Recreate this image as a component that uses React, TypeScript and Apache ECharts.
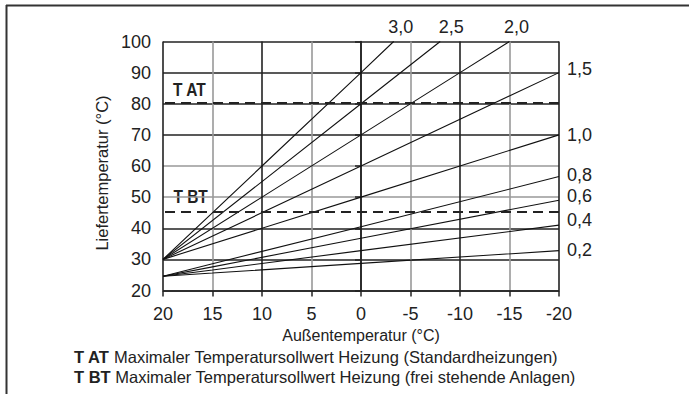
import React, { useEffect, useRef } from "react";
import * as echarts from "echarts";

const FONT = "'Liberation Sans Narrow', 'Arial Narrow', 'Liberation Sans', sans-serif";

// Heating curves: [outside temperature, flow temperature]
const curveNames = ["3,0", "2,5", "2,0", "1,5", "1,0", "0,8", "0,6", "0,4", "0,2"];
const c30 = [[20, 30], [10, 60], [0, 90], [-3.3, 100]];
const c25 = [[20, 30], [10, 55], [0, 80], [-8, 100]];
const c20 = [[20, 30], [10, 50], [0, 70], [-10, 90], [-15, 100]];
const c15 = [[20, 30], [0, 60], [-20, 90]];
const c10 = [[20, 30], [0, 50], [-20, 70]];
const c08 = [[20, 24.6], [15, 28.6], [0, 40.5], [-20, 56.6]];
const c06 = [[20, 24.6], [15, 27.6], [0, 36.8], [-20, 49]];
const c04 = [[20, 24.6], [15, 26.6], [0, 32.8], [-20, 41]];
const c02 = [[20, 24.6], [15, 25.6], [0, 28.7], [-20, 32.8]];
const curves = [c30, c25, c20, c15, c10, c08, c06, c04, c02];

// Label placement per curve (position, offset)
const labelPos = ["top", "top", "top", "right", "right", "right", "right", "right", "right"];
const labelOffset = [[7, 0], [11, 0], [7, 0], [0, -4], [0, 0], [0, -2], [0, -4], [0, -5], [0, -1]];

// Maximum setpoint lines
const limitNames = ["T AT", "T BT"];
const limitValues = [80.4, 45.3];

const xTicks = [-20, 20, 5];
const yTicks = [20, 100, 10];
const xSplitColors = ["#222", "#999"];
const ySplitColors = ["#222", "#222", "#222", "#999", "#999", "#222", "#222", "#222", "#222"];

export default function App() {
  const ref = useRef<HTMLDivElement>(null);
  useEffect(() => {
    if (!ref.current) return;
    const chart = echarts.init(ref.current, undefined, { renderer: "svg" });
    const series: any[] = curves.map((pts, i) => ({
      type: "line",
      name: curveNames[i],
      showSymbol: true,
      symbol: "circle",
      symbolSize: 0,
      silent: true,
      lineStyle: { color: "#111", width: 1.1 },
      itemStyle: { color: "#111" },
      data: pts.map((p, j) =>
        j === pts.length - 1
          ? {
              value: p,
              label: {
                show: true,
                position: labelPos[i],
                distance: labelPos[i] === "top" ? 6 : 8,
                offset: labelOffset[i],
                formatter: curveNames[i],
                fontSize: 18,
                fontFamily: FONT,
                color: "#222",
              },
            }
          : { value: p, label: { show: false } }
      ),
    }));
    series.push({
      type: "line",
      data: [],
      markLine: {
        silent: true,
        symbol: "none",
        label: { show: false },
        lineStyle: { color: "#222", type: [10, 6], width: 2 },
        data: limitValues.map((v, i) => ({ yAxis: v, name: limitNames[i] })),
      },
    });
    chart.setOption({
      animation: false,
      backgroundColor: "#fff",
      grid: { left: 163, top: 41.5, right: 130, bottom: 103.5 },
      xAxis: {
        type: "value",
        min: xTicks[0],
        max: xTicks[1],
        interval: xTicks[2],
        inverse: true,
        name: "Außentemperatur (°C)",
        nameLocation: "middle",
        nameGap: 34,
        nameTextStyle: { fontSize: 16, fontFamily: FONT, color: "#222" },
        axisLine: { lineStyle: { color: "#222", width: 1.5 } },
        axisTick: { show: true, length: 6, lineStyle: { color: "#222", width: 1.5 } },
        axisLabel: { fontSize: 18, fontFamily: FONT, color: "#222", margin: 14.5 },
        splitLine: { show: true, lineStyle: { color: xSplitColors, width: 1.6 } },
      },
      yAxis: {
        type: "value",
        min: yTicks[0],
        max: yTicks[1],
        interval: yTicks[2],
        name: "Liefertemperatur (°C)",
        nameLocation: "middle",
        nameGap: 37,
        nameTextStyle: { fontSize: 16.5, fontFamily: FONT, color: "#222", padding: [0, 14, 0, 0] },
        axisLine: { lineStyle: { color: "#222", width: 1.5 } },
        axisTick: { show: true, length: 6, lineStyle: { color: "#222", width: 1.5 } },
        axisLabel: { fontSize: 18, fontFamily: FONT, color: "#222", margin: 12 },
        splitLine: { show: true, lineStyle: { color: ySplitColors, width: 1.5 } },
      },
      graphic: [
        { type: "line", shape: { x1: 6, y1: 5.5, x2: 689, y2: 5.5 }, style: { stroke: "#333", lineWidth: 2 } },
        { type: "line", shape: { x1: 6.5, y1: 5, x2: 6.5, y2: 394 }, style: { stroke: "#333", lineWidth: 2 } },
        {
          type: "text",
          x: 173,
          y: 90,
          scaleX: 0.86,
          style: { text: limitNames[0], font: `bold 18px ${FONT}`, fill: "#222", verticalAlign: "middle" },
        },
        {
          type: "text",
          x: 170,
          y: 197,
          scaleX: 0.86,
          style: {
            text: limitNames[1],
            font: `bold 18px ${FONT}`,
            fill: "#222",
            verticalAlign: "middle",
            backgroundColor: "#fff",
            padding: [0, 4],
          },
        },
        {
          type: "text",
          x: 74,
          y: 357,
          style: {
            text: "{b|T AT} Maximaler Temperatursollwert Heizung (Standardheizungen)",
            font: `16.5px ${FONT}`,
            fill: "#222",
            verticalAlign: "middle",
            rich: { b: { fontWeight: "bold", fontSize: 16.5, fontFamily: FONT, fill: "#222" } },
          },
        },
        {
          type: "text",
          x: 74,
          y: 377,
          style: {
            text: "{b|T BT} Maximaler Temperatursollwert Heizung (frei stehende Anlagen)",
            font: `16.5px ${FONT}`,
            fill: "#222",
            verticalAlign: "middle",
            rich: { b: { fontWeight: "bold", fontSize: 16.5, fontFamily: FONT, fill: "#222" } },
          },
        },
      ],
      series,
    });
    return () => chart.dispose();
  }, []);
  return (
    <div
      ref={ref}
      style={{ position: "fixed", left: 0, top: 0, width: 689, height: 394, background: "#fff" }}
    />
  );
}
